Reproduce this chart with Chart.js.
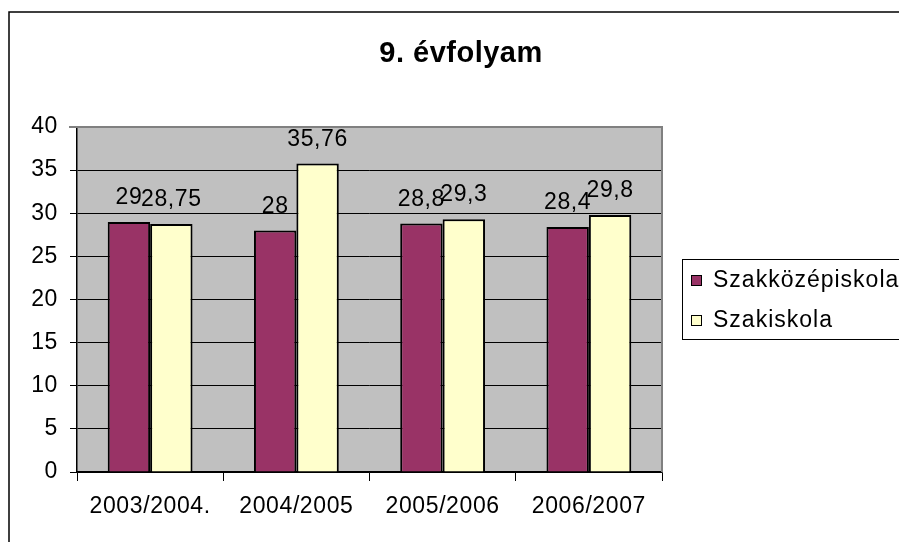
<!DOCTYPE html>
<html>
<head>
<meta charset="utf-8">
<style>
html,body{margin:0;padding:0;background:#fff;}
#wrap{width:899px;height:542px;position:relative;}
</style>
<script src="https://cdn.jsdelivr.net/npm/chart.js@4/dist/chart.umd.min.js"></script>
</head>
<body>
<div id="wrap"><canvas id="c" width="899" height="542"></canvas></div>
<script>
const categories = ['2003/2004.', '2004/2005', '2005/2006', '2006/2007'];
const szakkozepiskola = [29, 28, 28.8, 28.4];
const szakiskola = [28.75, 35.76, 29.3, 29.8];
const seriesNames = ['Szakközépiskola', 'Szakiskola'];
const seriesColors = ['#993366', '#FFFFCC'];
const titleText = '9. évfolyam';
const yMin = 0, yMax = 40, yStep = 5;

const FONT = '"Liberation Sans", Arial, Helvetica, sans-serif';

const decor = {
  id: 'decor',
  beforeDraw(chart) {
    const {ctx, chartArea: a} = chart;
    ctx.letterSpacing = '0.6px';
    ctx.save();
    ctx.fillStyle = '#C0C0C0';
    ctx.fillRect(a.left, a.top, a.right - a.left, a.bottom - a.top);
    ctx.restore();
  },
  afterDraw(chart) {
    const {ctx, chartArea: a} = chart;
    ctx.save();
    // plot border top & right (gray)
    ctx.strokeStyle = '#808080';
    ctx.lineWidth = 2;
    ctx.beginPath();
    ctx.moveTo(a.left - 8, a.top);
    ctx.lineTo(a.right, a.top);
    ctx.lineTo(a.right, a.bottom);
    ctx.stroke();
    // outer chart border (left and top)
    ctx.strokeStyle = '#000';
    ctx.lineWidth = 1.5;
    ctx.beginPath();
    ctx.moveTo(9, 542);
    ctx.lineTo(9, 12);
    ctx.lineTo(899, 12);
    ctx.stroke();
    // title
    ctx.fillStyle = '#000';
    ctx.letterSpacing = '0.5px';
    ctx.font = 'bold 29px ' + FONT;
    ctx.textAlign = 'center';
    ctx.textBaseline = 'alphabetic';
    ctx.fillText(titleText, 461, 62);
    // legend
    const lx = 682, ly = 259, lh = 80;
    ctx.strokeStyle = '#000';
    ctx.lineWidth = 1;
    ctx.strokeRect(lx + 0.5, ly + 0.5, 899 - lx + 5, lh);
    ctx.letterSpacing = '1px';
    ctx.font = '23px ' + FONT;
    ctx.textAlign = 'left';
    ctx.textBaseline = 'middle';
    seriesNames.forEach((n, i) => {
      const cy = 280 + i * 40;
      ctx.fillStyle = seriesColors[i];
      ctx.fillRect(691, cy - 5, 11, 11);
      ctx.strokeStyle = '#000';
      ctx.lineWidth = 1;
      ctx.strokeRect(691.5, cy - 4.5, 10, 10);
      ctx.fillStyle = '#000';
      ctx.fillText(n, 713, cy + 1);
    });
    ctx.restore();
  },
  afterDatasetsDraw(chart) {
    const {ctx} = chart;
    ctx.save();
    ctx.font = '23px ' + FONT;
    ctx.fillStyle = '#000';
    ctx.textAlign = 'center';
    ctx.textBaseline = 'alphabetic';
    chart.data.datasets.forEach((ds, di) => {
      const meta = chart.getDatasetMeta(di);
      meta.data.forEach((bar, i) => {
        const lbl = String(ds.data[i]).replace('.', ',');
        ctx.fillText(lbl, bar.x, bar.y - 18);
      });
    });
    ctx.restore();
  }
};

new Chart(document.getElementById('c'), {
  type: 'bar',
  data: {
    labels: categories,
    datasets: [
      {label: seriesNames[0], data: szakkozepiskola, backgroundColor: seriesColors[0], borderColor: '#000', borderWidth: 2, categoryPercentage: 0.58, barPercentage: 1.0},
      {label: seriesNames[1], data: szakiskola, backgroundColor: seriesColors[1], borderColor: '#000', borderWidth: 2, categoryPercentage: 0.58, barPercentage: 1.0}
    ]
  },
  options: {
    responsive: false,
    animation: false,
    devicePixelRatio: 1,
    layout: {padding: {top: 127, right: 237, left: 0, bottom: 0}},
    plugins: {legend: {display: false}, title: {display: false}, tooltip: {enabled: false}},
    scales: {
      x: {
        offset: true,
        grid: {display: true, offset: true, drawOnChartArea: false, drawTicks: true, tickLength: 9, color: '#000', lineWidth: 1},
        border: {display: true, color: '#000', width: 1.5},
        ticks: {color: '#000', font: {family: FONT, size: 23}, padding: 12, maxRotation: 0, autoSkip: false},
        afterFit(s) { s.height = 70; }
      },
      y: {
        min: yMin, max: yMax,
        grid: {color: '#000', lineWidth: 1, drawTicks: true, tickLength: 7},
        border: {display: true, color: '#000', width: 1.5},
        ticks: {stepSize: yStep, color: '#000', font: {family: FONT, size: 23}, padding: 12},
        afterFit(s) { s.width = 77; }
      }
    }
  },
  plugins: [decor]
});
</script>
</body>
</html>
